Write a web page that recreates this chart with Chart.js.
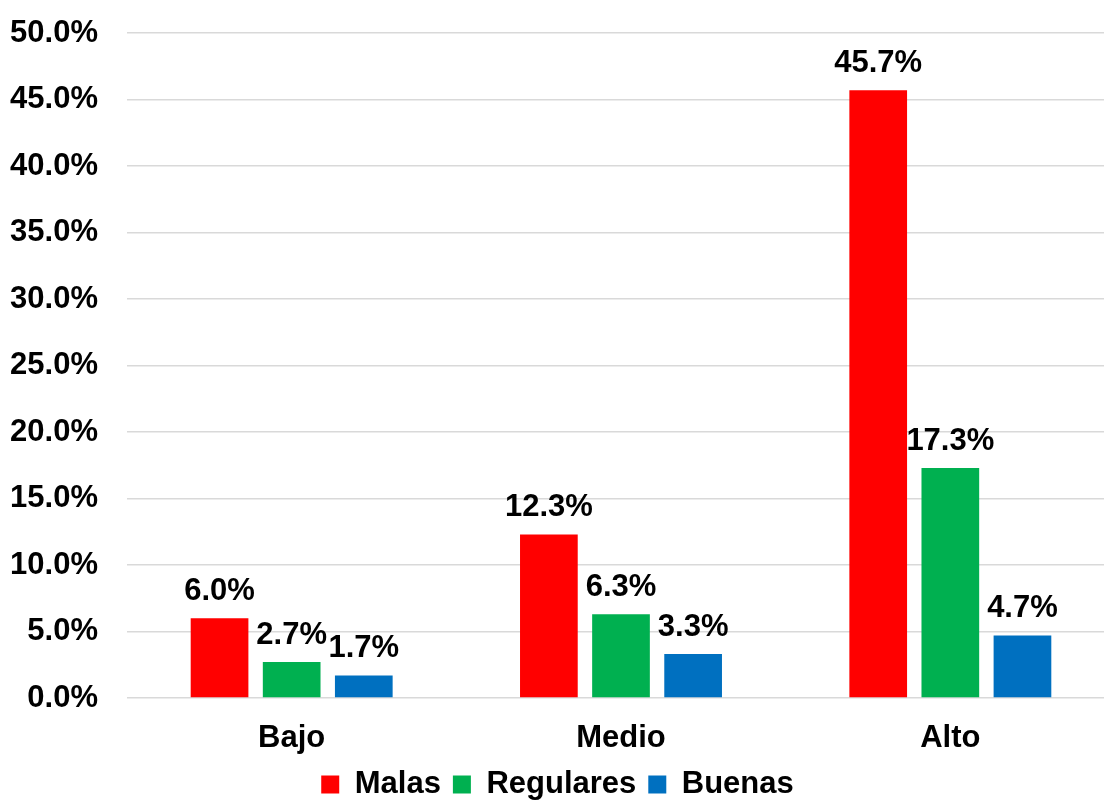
<!DOCTYPE html>
<html>
<head>
<meta charset="utf-8">
<script src="https://cdn.jsdelivr.net/npm/chart.js@4"></script>
<style>
  html, body { margin: 0; padding: 0; background: #fff; overflow: hidden; }
  #wrap { width: 1120px; height: 810px; }
</style>
</head>
<body>
<div id="wrap"><canvas id="myChart" width="1120" height="810"></canvas></div>
<script>
// DATA
const categories = ['Bajo', 'Medio', 'Alto'];
const malas = [6.0, 12.3, 45.7];
const regulares = [2.7, 6.3, 17.3];
const buenas = [1.7, 3.3, 4.7];
const seriesNames = ['Malas', 'Regulares', 'Buenas'];
const yTicks = [0, 5, 10, 15, 20, 25, 30, 35, 40, 45, 50];

const FONT_SIZE = 31;
const LEGEND_PAD = 12;

// LABELS ON TOP OF THE BARS
const barLabels = {
    id: 'barLabels',
    afterDatasetsDraw(chart) {
        const ctx = chart.ctx;
        ctx.save();
        ctx.font = "bold " + FONT_SIZE + "px 'Liberation Sans', Arial, sans-serif";
        ctx.fillStyle = '#000';
        ctx.textAlign = 'center';
        ctx.textBaseline = 'alphabetic';
        chart.data.datasets.forEach((ds, i) => {
            chart.getDatasetMeta(i).data.forEach((bar, j) => {
                ctx.fillText(ds.data[j].toFixed(1) + '%', bar.x, bar.y - 18);
            });
        });
        ctx.restore();
    }
};

chartIt();

function chartIt() {
    const ctx = document.getElementById('myChart').getContext('2d');

    Chart.defaults.font.family = "'Liberation Sans', Arial, sans-serif";
    Chart.defaults.font.weight = 'bold';
    Chart.defaults.font.size = FONT_SIZE;
    Chart.defaults.color = '#000';

    new Chart(ctx, {
        type: 'bar',
        data: {
            labels: categories,
            datasets: [
                { label: seriesNames[0], data: malas, backgroundColor: '#FF0000' },
                { label: seriesNames[1], data: regulares, backgroundColor: '#00B050' },
                { label: seriesNames[2], data: buenas, backgroundColor: '#0070C0' }
            ]
        },
        options: {
            responsive: false,
            animation: false,
            datasets: {
                bar: {
                    categoryPercentage: 0.657,
                    barPercentage: 0.8
                }
            },
            layout: {
                padding: { top: 33, right: 5, left: 0, bottom: 0 }
            },
            plugins: {
                legend: {
                    position: 'bottom',
                    labels: {
                        boxWidth: 18,
                        boxHeight: 18,
                        padding: LEGEND_PAD,
                        font: { size: FONT_SIZE, weight: 'bold' }
                    }
                },
                tooltip: { enabled: false }
            },
            scales: {
                x: {
                    grid: { display: false, drawTicks: false },
                    border: { display: false },
                    ticks: { padding: 22 },
                    afterFit: (axis) => {
                        // legend takes fontSize + padding + 10
                        axis.height = 810 - 698 - (FONT_SIZE + LEGEND_PAD + 10);
                    }
                },
                y: {
                    min: 0,
                    max: 50,
                    afterBuildTicks: (axis) => {
                        axis.ticks = yTicks.map(v => ({ value: v }));
                    },
                    afterFit: (axis) => {
                        axis.width = 127;
                        axis.paddingTop = 0;
                        axis.paddingBottom = 0;
                    },
                    grid: { color: '#D9D9D9', lineWidth: 1.5, drawTicks: false },
                    border: { display: false },
                    ticks: {
                        padding: 29,
                        callback: (v) => v.toFixed(1) + '%'
                    }
                }
            }
        },
        plugins: [barLabels]
    });
}
</script>
</body>
</html>
